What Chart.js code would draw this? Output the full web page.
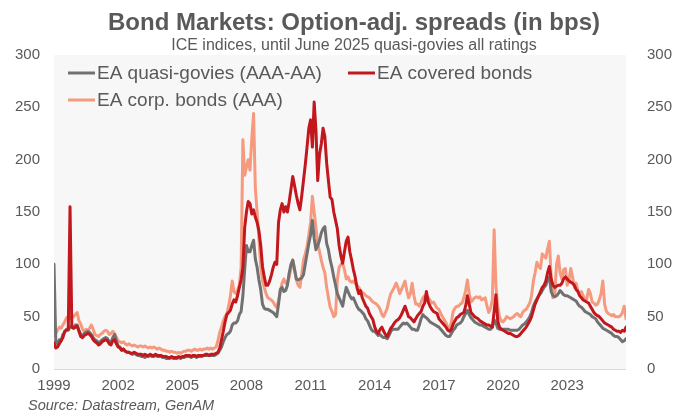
<!DOCTYPE html>
<html>
<head>
<meta charset="utf-8">
<title>Bond Markets: Option-adj. spreads</title>
<script src="https://cdn.jsdelivr.net/npm/chart.js@4.4.1/dist/chart.umd.min.js"></script>
<style>
  html, body { margin: 0; padding: 0; background: #ffffff; }
  #wrap { width: 683px; height: 416px; }
</style>
</head>
<body>
<div id="wrap"><canvas id="spreadChart" width="683" height="416"></canvas></div>
<script>
// Monthly observations, first point = Jan 1999
const startYear = 1999;
const tickYears = [1999, 2002, 2005, 2008, 2011, 2014, 2017, 2020, 2023];
const seriesNames = ["EA quasi-govies (AAA-AA)", "EA covered bonds", "EA corp. bonds (AAA)"];

const quasiGovies = [
  100, 26, 24, 28, 27, 33, 35, 38, 37, 40, 41, 39,      // 1999
  42, 42, 37, 33, 32, 34, 35, 36, 35, 33, 30, 28,       // 2000
  27, 25, 26, 28, 29, 30, 29, 26, 25, 30, 33, 27,       // 2001
  22, 21, 18, 19, 17, 16, 16, 15, 14, 15, 14, 13,       // 2002
  13, 12, 12, 11, 12, 12, 13, 12, 12, 13, 12, 12,       // 2003
  12, 11, 11, 10, 10, 10, 11, 10, 10, 10, 11, 10,       // 2004
  11, 11, 12, 12, 12, 11, 12, 12, 11, 12, 12, 12,       // 2005
  13, 13, 13, 13, 13, 13, 13, 14, 15, 18, 21, 26,       // 2006
  30, 33, 34, 36, 42, 44, 44, 46, 52, 55, 70, 95,       // 2007
  118, 112, 112, 118, 123, 105, 97, 85, 76, 62, 58, 57, // 2008
  57, 56, 55, 54, 52, 50, 62, 76, 78, 74, 75, 80,       // 2009
  92, 100, 104, 95, 86, 85, 86, 87, 90, 100, 110, 120,  // 2010
  128, 142, 125, 114, 118, 123, 130, 134, 136, 120, 114, 104, // 2011
  97, 88, 80, 72, 68, 64, 60, 70, 78, 74, 70, 67,       // 2012
  68, 64, 60, 57, 56, 54, 52, 48, 46, 42, 38, 36,       // 2013
  36, 34, 32, 33, 31, 30, 30, 29, 32, 36, 38, 38,       // 2014
  38, 38, 40, 42, 44, 43, 44, 42, 40, 38, 38, 37,       // 2015
  37, 42, 48, 52, 50, 49, 47, 45, 44, 43, 42, 41,       // 2016
  40, 38, 36, 34, 32, 31, 31, 34, 37, 39, 42, 43,       // 2017
  44, 46, 50, 53, 56, 52, 49, 47, 45, 44, 43, 42,       // 2018
  42, 41, 40, 39, 38, 38, 40, 47, 44, 39, 38, 38,       // 2019
  38, 38, 38, 38, 37, 37, 37, 37, 37, 38, 40, 42,       // 2020
  43, 45, 47, 50, 54, 60, 64, 67, 70, 72, 75, 78,       // 2021
  80, 86, 88, 74, 70, 69, 70, 72, 75, 73, 71, 70,       // 2022
  70, 69, 68, 67, 66, 65, 62, 60, 59, 57, 55, 54,       // 2023
  53, 52, 50, 49, 48, 45, 43, 41, 39, 38, 37, 36,       // 2024
  35, 34, 32, 31, 31, 30, 28, 26, 27, 29                // 2025
];

const coveredBonds = [
  25, 20, 21, 24, 27, 30, 36, 37, 38, 155, 40, 39,      // 1999
  40, 41, 36, 31, 30, 32, 33, 34, 33, 31, 28, 26,       // 2000
  25, 23, 24, 26, 27, 28, 27, 24, 23, 27, 28, 24,       // 2001
  21, 20, 18, 19, 17, 16, 16, 15, 15, 16, 15, 14,       // 2002
  14, 14, 13, 14, 13, 13, 14, 13, 13, 14, 13, 13,       // 2003
  13, 12, 12, 12, 11, 11, 12, 11, 11, 11, 12, 11,       // 2004
  12, 12, 13, 13, 13, 12, 13, 13, 12, 13, 13, 13,       // 2005
  13, 14, 14, 13, 14, 14, 14, 15, 16, 20, 28, 36,       // 2006
  45, 52, 54, 56, 62, 66, 64, 70, 78, 85, 97, 135,      // 2007
  150, 160, 158, 148, 152, 145, 140, 132, 118, 98, 88, 80, // 2008
  80, 84, 90, 97, 102, 100, 140, 152, 158, 150, 155, 150, // 2009
  160, 172, 184, 175, 166, 158, 152, 165, 180, 195, 212, 230, // 2010
  238, 212, 255, 228, 180, 205, 215, 230, 222, 197, 180, 164, // 2011
  162, 150, 142, 134, 118, 108, 101, 112, 122, 126, 112, 104, // 2012
  95, 88, 78, 72, 75, 68, 64, 60, 58, 53, 50, 47,       // 2013
  40, 36, 34, 38, 40, 36, 33, 31, 35, 39, 41, 44,       // 2014
  46, 47, 49, 52, 56, 60, 55, 50, 49, 47, 45, 48,       // 2015
  51, 53, 55, 60, 63, 74, 64, 60, 57, 55, 54, 53,       // 2016
  48, 46, 44, 42, 40, 37, 36, 38, 43, 46, 49, 50,       // 2017
  52, 53, 54, 60, 70, 62, 54, 52, 50, 49, 48, 46,       // 2018
  45, 44, 43, 42, 42, 41, 40, 55, 71, 46, 40, 38,       // 2019
  37, 36, 35, 34, 34, 33, 32, 31, 31, 32, 34, 36,       // 2020
  38, 40, 43, 46, 50, 56, 62, 66, 70, 74, 78, 80,       // 2021
  84, 92, 98, 86, 80, 78, 79, 80, 80, 82, 86, 88,       // 2022
  86, 84, 83, 82, 80, 76, 74, 70, 68, 66, 65, 64,       // 2023
  63, 60, 57, 54, 52, 51, 50, 48, 46, 44, 43, 42,       // 2024
  41, 40, 38, 37, 36, 36, 35, 37, 36, 40                // 2025
];

const corpBonds = [
  32, 34, 37, 40, 39, 42, 45, 49, 50, 48, 51, 50,       // 1999
  52, 54, 46, 43, 38, 36, 38, 37, 39, 42, 38, 33,       // 2000
  32, 31, 33, 34, 36, 37, 36, 33, 34, 36, 34, 30,       // 2001
  27, 26, 25, 26, 24, 23, 24, 23, 22, 23, 22, 21,       // 2002
  22, 22, 21, 22, 21, 20, 21, 20, 21, 20, 19, 20,       // 2003
  19, 18, 18, 17, 17, 16, 17, 16, 16, 15, 16, 15,       // 2004
  16, 17, 17, 18, 18, 17, 18, 19, 18, 18, 19, 18,       // 2005
  19, 19, 20, 19, 20, 19, 20, 21, 27, 35, 40, 46,       // 2006
  50, 53, 60, 70, 84, 74, 72, 75, 80, 97, 219, 185,     // 2007
  193, 200, 190, 220, 244, 172, 150, 125, 98, 85, 78, 72, // 2008
  68, 67, 66, 64, 61, 59, 65, 74, 82, 86, 82, 83,       // 2009
  88, 96, 104, 95, 85, 80, 78, 90, 104, 110, 117, 128,  // 2010
  140, 165, 150, 135, 120, 112, 104, 97, 92, 78, 68, 59, // 2011
  55, 50, 52, 85, 97, 100, 101, 95, 86, 88, 84, 83,     // 2012
  84, 82, 80, 78, 75, 73, 72, 70, 69, 68, 66, 64,       // 2013
  63, 62, 60, 57, 52, 50, 54, 58, 66, 72, 75, 78,       // 2014
  82, 78, 72, 76, 80, 84, 75, 68, 72, 82, 70, 62,       // 2015
  62, 60, 64, 68, 70, 69, 68, 66, 63, 64, 61, 58,       // 2016
  57, 53, 50, 47, 44, 40, 38, 45, 55, 58, 60, 60,       // 2017
  62, 63, 68, 75, 85, 72, 64, 66, 68, 69, 68, 69,       // 2018
  66, 67, 68, 60, 54, 58, 66, 133, 80, 60, 50, 46,      // 2019
  45, 47, 50, 49, 48, 49, 50, 52, 53, 51, 50, 54,       // 2020
  56, 57, 60, 63, 70, 84, 92, 102, 98, 96, 110, 108,    // 2021
  106, 115, 122, 88, 68, 70, 100, 108, 92, 86, 95, 96,  // 2022
  80, 85, 96, 88, 78, 82, 75, 72, 74, 70, 66, 67,       // 2023
  76, 72, 64, 63, 61, 62, 66, 72, 84, 62, 55, 53,       // 2024
  52, 51, 52, 50, 50, 50, 51, 54, 60, 48                // 2025
];

const textColor = "#595959";
const fontFamily = '"Liberation Sans", Arial, sans-serif';
const lineColors = ["#717171", "#c1171d", "#f59a7e"];

// month index -> decimal year on the x axis
const toPoints = vals => vals.map((v, i) => ({ x: startYear + i / 12, y: v }));
const lastX = startYear + (quasiGovies.length - 1) / 12;

// light grey plot area plus the thin baseline
const plotBackground = {
  id: "plotBackground",
  beforeDraw(chart) {
    const { ctx, chartArea: a } = chart;
    ctx.save();
    ctx.fillStyle = "#f7f7f7";
    ctx.fillRect(a.left, a.top, a.right - a.left, a.bottom - a.top);
    ctx.strokeStyle = "#d9d9d9";
    ctx.lineWidth = 1;
    ctx.beginPath();
    ctx.moveTo(a.left, a.bottom + 0.5);
    ctx.lineTo(a.right, a.bottom + 0.5);
    ctx.stroke();
    ctx.restore();
  }
};

// title, subtitle and source note
const headings = {
  id: "headings",
  afterDraw(chart) {
    const ctx = chart.ctx;
    ctx.save();
    ctx.fillStyle = textColor;
    ctx.textBaseline = "middle";
    ctx.textAlign = "center";
    ctx.font = "bold 24px " + fontFamily;
    ctx.fillText("Bond Markets: Option-adj. spreads (in bps)", 354, 23);
    ctx.font = "16px " + fontFamily;
    ctx.fillText("ICE indices, until June 2025 quasi-govies all ratings", 354, 46);
    ctx.textAlign = "left";
    ctx.font = "italic 14.5px " + fontFamily;
    ctx.fillText("Source: Datastream, GenAM", 28, 406);
    ctx.restore();
  }
};

// legend sits inside the plot area, two rows
const insideLegend = {
  id: "insideLegend",
  afterDraw(chart) {
    const ctx = chart.ctx;
    const entries = [
      { x: 68, y: 73, i: 0 },
      { x: 348, y: 73, i: 1 },
      { x: 68, y: 100, i: 2 }
    ];
    ctx.save();
    ctx.font = "19px " + fontFamily;
    ctx.textBaseline = "middle";
    ctx.textAlign = "left";
    entries.forEach(e => {
      ctx.strokeStyle = lineColors[e.i];
      ctx.lineWidth = 3;
      ctx.beginPath();
      ctx.moveTo(e.x, e.y);
      ctx.lineTo(e.x + 27, e.y);
      ctx.stroke();
      ctx.fillStyle = textColor;
      ctx.fillText(seriesNames[e.i], e.x + 29, e.y + 1);
    });
    ctx.restore();
  }
};

const yTicks = {
  min: 0,
  max: 300,
  grid: { display: false, drawTicks: false },
  border: { display: false }
};

new Chart(document.getElementById("spreadChart"), {
  type: "line",
  data: {
    datasets: [
      { label: seriesNames[0], data: toPoints(quasiGovies), borderColor: lineColors[0], order: 2 },
      { label: seriesNames[1], data: toPoints(coveredBonds), borderColor: lineColors[1], order: 1 },
      { label: seriesNames[2], data: toPoints(corpBonds), borderColor: lineColors[2], order: 3 }
    ]
  },
  options: {
    responsive: false,
    animation: false,
    layout: { padding: { top: 55, left: 0, right: 0, bottom: 0 } },
    elements: {
      point: { radius: 0 },
      line: { borderWidth: 3, tension: 0, borderJoinStyle: "round", borderCapStyle: "round", fill: false }
    },
    plugins: {
      legend: { display: false },
      tooltip: { enabled: false },
      title: { display: false }
    },
    scales: {
      x: {
        type: "linear",
        min: startYear,
        max: lastX,
        grid: { display: false, drawTicks: false },
        border: { display: false },
        ticks: {
          autoSkip: false,
          maxRotation: 0,
          padding: 8,
          color: textColor,
          font: { family: fontFamily, size: 15 },
          callback: v => String(v)
        },
        afterBuildTicks(scale) { scale.ticks = tickYears.map(v => ({ value: v })); },
        afterFit(scale) { scale.height = 47; }
      },
      y: {
        ...yTicks,
        position: "left",
        ticks: { stepSize: 50, padding: 14, color: textColor, font: { family: fontFamily, size: 15 } },
        afterFit(scale) { scale.width = 54; }
      },
      y2: {
        ...yTicks,
        position: "right",
        ticks: { stepSize: 50, padding: 21, color: textColor, font: { family: fontFamily, size: 15 } },
        afterFit(scale) { scale.width = 57; }
      }
    }
  },
  plugins: [plotBackground, headings, insideLegend]
});
</script>
</body>
</html>
